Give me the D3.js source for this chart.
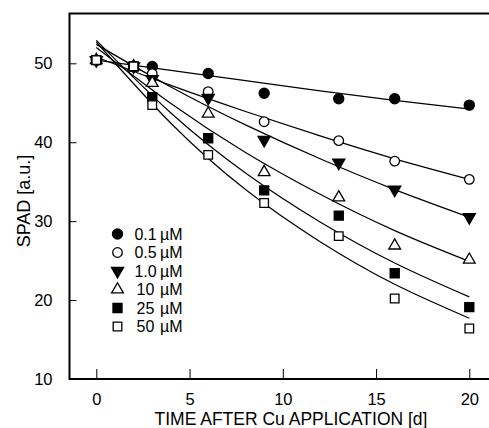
<!DOCTYPE html>
<html>
<head>
<meta charset="utf-8">
<script src="https://cdn.jsdelivr.net/npm/d3@7"></script>
<style>
  html, body { margin: 0; padding: 0; background: #fff; }
  svg { display: block; font-family: "Liberation Sans", Arial, sans-serif; }
</style>
</head>
<body>
<svg id="chart" width="489" height="428"></svg>
<script>
// ---- data ----
const days = [0, 2, 3, 6, 9, 13, 16, 20];
const seriesNames = ["0.1", "0.5", "1.0", "10", "25", "50"];
const s01 = [50.4, 49.6, 49.6, 48.7, 46.2, 45.5, 45.5, 44.7];
const s05 = [50.4, 49.6, 48.7, 46.4, 42.6, 40.2, 37.6, 35.3];
const s10 = [50.4, 49.6, 48.0, 45.6, 40.3, 37.4, 34.0, 30.5];
const s100 = [50.4, 49.6, 47.5, 43.6, 36.2, 33.0, 26.9, 25.1];
const s250 = [50.4, 49.6, 45.7, 40.5, 33.9, 30.7, 23.4, 19.1];
const s500 = [50.4, 49.6, 44.7, 38.4, 32.3, 28.1, 20.2, 16.4];
// fitted curves
const fitDays = [0, 4, 8, 12, 16, 20];
const fit01 = [50.4, 49.1, 47.8, 46.5, 45.3, 44.2];
const fit05 = [50.8, 47.2, 43.9, 40.8, 37.9, 35.3];
const fit10 = [52.4, 47.0, 42.2, 37.9, 34.0, 30.5];
const fit100 = [52.0, 44.9, 38.7, 33.4, 28.8, 24.9];
const fit250 = [52.9, 43.7, 36.1, 29.9, 24.7, 20.4];
const fit500 = [52.7, 42.4, 34.0, 27.4, 22.0, 17.7];
const xTicks = [0, 5, 10, 15, 20];
const yTicks = [10, 20, 30, 40, 50];

const seriesVals = [s01, s05, s10, s100, s250, s500];
const fitVals = [fit01, fit05, fit10, fit100, fit250, fit500];
const symbolDefs = [
  {type: d3.symbolCircle, fill: "#000", size: 80, rot: 0},
  {type: d3.symbolCircle, fill: "#fff", size: 72, rot: 0},
  {type: d3.symbolTriangle, fill: "#000", size: 64, rot: 180},
  {type: d3.symbolTriangle, fill: "#fff", size: 60, rot: 0},
  {type: d3.symbolSquare, fill: "#000", size: 82, rot: 0},
  {type: d3.symbolSquare, fill: "#fff", size: 74, rot: 0}
];

const svg = d3.select("#chart");
const L = 69.5, T = 13.5, R = 490, B = 379;
const x = d3.scaleLinear().domain([0, 20]).range([96.3, 469.3]);
const y = d3.scaleLinear().domain([10, 50]).range([B, 63.3]);

// axes
const xAxis = svg.append("g").attr("transform", `translate(0,${B})`)
  .call(d3.axisBottom(x).tickValues(xTicks).tickSizeInner(-10).tickSizeOuter(0).tickPadding(14));
const yAxis = svg.append("g").attr("transform", `translate(${L},0)`)
  .call(d3.axisLeft(y).tickValues(yTicks).tickSizeInner(-7).tickSizeOuter(0).tickPadding(17));
[xAxis, yAxis].forEach(g => {
  g.select(".domain").remove();
  g.selectAll(".tick line").attr("stroke", "#000").attr("stroke-width", 1);
  g.selectAll(".tick text").attr("font-size", 16.5).attr("fill", "#000")
    .attr("font-family", "Liberation Sans, Arial, sans-serif");
});
yAxis.selectAll(".tick").filter(d => d === 10).select("line").remove();

// frame
svg.append("path")
  .attr("d", `M${R},${T}H${L}V${B}H${R}`)
  .attr("fill", "none").attr("stroke", "#000").attr("stroke-width", 2);

// fitted lines
const line = d3.line().curve(d3.curveNatural)
  .x((d, i) => x(fitDays[i])).y(d => y(d));
fitVals.forEach(v => {
  svg.append("path").attr("d", line(v))
    .attr("fill", "none").attr("stroke", "#000").attr("stroke-width", 1.2);
});

// points
function drawSym(g, def, cx, cy) {
  g.append("path")
    .attr("d", d3.symbol().type(def.type).size(def.size)())
    .attr("transform", `translate(${cx},${cy}) rotate(${def.rot})`)
    .attr("fill", def.fill).attr("stroke", "#000").attr("stroke-width", 1.3);
}
const pts = svg.append("g");
seriesVals.forEach((vals, si) => {
  vals.forEach((v, i) => drawSym(pts, symbolDefs[si], x(days[i]), y(v)));
});

// legend
const lg = svg.append("g");
seriesNames.forEach((name, i) => {
  const yy = 234 + i * 18.5;
  drawSym(lg, symbolDefs[i], 117.5, yy);
  lg.append("text").attr("x", 145.5).attr("y", yy + 5.8)
    .attr("text-anchor", "middle").attr("font-size", 16).text(name);
  lg.append("text").attr("x", 160).attr("y", yy + 5.8)
    .attr("font-size", 16).text("µM");
});

// axis titles
svg.append("text").attr("x", 291).attr("y", 425)
  .attr("text-anchor", "middle").attr("font-size", 17.5)
  .text("TIME AFTER Cu APPLICATION [d]");
svg.append("text").attr("transform", "translate(30,201) rotate(-90)")
  .attr("text-anchor", "middle").attr("font-size", 18)
  .text("SPAD [a.u.]");
</script>
</body>
</html>
